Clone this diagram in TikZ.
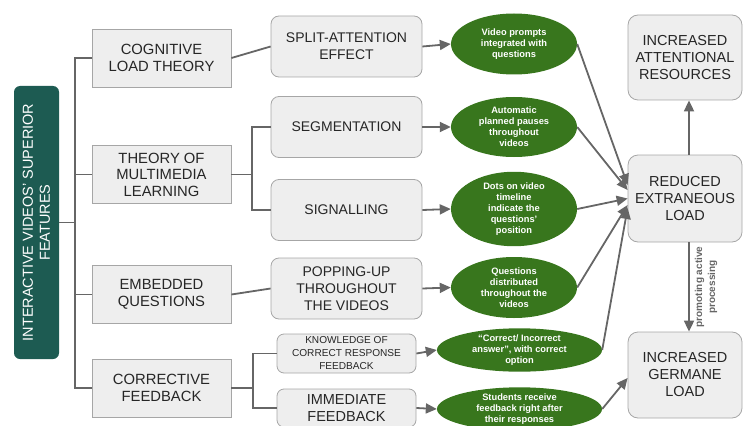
\documentclass[tikz,border=0pt]{standalone}
\usepackage{fontspec}
\setmainfont{Liberation Sans}
\usetikzlibrary{shapes.geometric,arrows.meta}

\definecolor{featteal}{HTML}{1D5B52}
\definecolor{leafgreen}{HTML}{38761D}
\definecolor{boxgray}{HTML}{EEEEEE}
\definecolor{boxedge}{HTML}{A6A6A6}
\definecolor{linkgray}{HTML}{666666}
\definecolor{inkgray}{HTML}{262626}

\begin{document}
\begin{tikzpicture}[x=1pt, y=-1pt, font=\rmfamily]

% ---- Define Styles ----
\tikzset{
  featurebox/.style={
    fill=featteal, rounded corners=6pt, rotate=90, text=white,
    minimum width=273pt, minimum height=45pt, inner sep=1pt,
    font=\fontsize{14.5}{17}\selectfont, align=center
  },
  theorybox/.style={
    draw=boxedge, fill=boxgray, line width=0.8pt, text=inkgray,
    minimum width=139pt, minimum height=58pt, inner sep=1pt,
    font=\fontsize{14.8}{16.5}\selectfont, align=center
  },
  mechbox/.style={
    draw=boxedge, fill=boxgray, line width=0.8pt, text=inkgray, rounded corners=8pt,
    minimum width=151pt, minimum height=61pt, inner sep=1pt,
    font=\fontsize{14}{17}\selectfont, align=center
  },
  leafnode/.style={
    ellipse, fill=leafgreen, text=white, inner sep=0pt,
    minimum width=126pt, minimum height=61pt,
    font=\bfseries\fontsize{9.3}{11}\selectfont, align=center
  },
  outcomebox/.style={
    draw=boxedge, fill=boxgray, line width=0.8pt, text=inkgray, rounded corners=10pt,
    minimum width=114pt, minimum height=86pt, inner sep=1pt,
    font=\fontsize{14.5}{17}\selectfont, align=center
  },
  link/.style={draw=linkgray, line width=1.8pt},
  arrowlink/.style={link, -{Triangle[length=11pt,width=10pt]}}
}

\useasboundingbox (0,0) rectangle (743,425);

% =========================================================
% LEFT: title bar and the four theories
% =========================================================
\node[featurebox] (main) at (36.5,222.5) {INTERACTIVE VIDEOS' SUPERIOR\\FEATURES};

\node[theorybox] (clt) at (161.5,58)    {COGNITIVE\\LOAD THEORY};
\node[theorybox] (tml) at (161.5,174.5) {THEORY OF\\MULTIMEDIA\\LEARNING};
\node[theorybox] (emb) at (161.5,294.5) {EMBEDDED\\QUESTIONS};
\node[theorybox] (cfb) at (161.5,388)   {CORRECTIVE\\FEEDBACK};

% bracket (the bar is turned, so its south side faces right)
\coordinate (trunk) at (75,222.5);
\draw[link] (main.south) -- (trunk);
\foreach \n in {clt,tml,emb,cfb}
  \draw[link] (trunk) |- (\n.west);

% =========================================================
% MIDDLE: mechanisms
% =========================================================
\node[mechbox] (spl) at (346.5,46.5)  {SPLIT-ATTENTION\\EFFECT};
\node[mechbox] (seg) at (346.5,127)   {SEGMENTATION};
\node[mechbox] (sig) at (346.5,210)   {SIGNALLING};
\node[mechbox] (pop) at (346.5,288.5) {POPPING-UP\\THROUGHOUT\\THE VIDEOS};
\node[mechbox, minimum width=139pt, minimum height=39pt, rounded corners=7pt,
      font=\fontsize{10.1}{13}\selectfont] (kcr) at (346.5,353.5)
      {KNOWLEDGE OF\\CORRECT RESPONSE\\FEEDBACK};
\node[mechbox, minimum width=139pt, minimum height=38pt, rounded corners=7pt,
      font=\fontsize{14.5}{17.5}\selectfont] (imm) at (346.5,408)
      {IMMEDIATE\\FEEDBACK};

\draw[link] (clt.east) -- (spl.west);
\draw[link] (emb.east) -- (pop.west);

\coordinate (mmfork) at (252,174.5);
\draw[link] (tml.east) -- (mmfork);
\draw[link] (mmfork) |- (seg.west);
\draw[link] (mmfork) |- (sig.west);

\coordinate (cffork) at (253,388);
\draw[link] (cfb.east) -- (cffork);
\draw[link] (cffork) |- (kcr.west);
\draw[link] (cffork) |- (imm.west);

% =========================================================
% GREEN ELLIPSES: how the videos do it
% =========================================================
\node[leafnode] (vp) at (514,44)    {Video prompts\\integrated with\\questions};
\node[leafnode, minimum height=60pt] (ap) at (514,127)
      {Automatic\\planned pauses\\throughout\\videos};
\node[leafnode, minimum height=58pt] (dt) at (514,209)
      {Dots on video\\timeline\\indicate the\\questions'\\position};
\node[leafnode] (qd) at (514,287.5) {Questions\\distributed\\throughout the\\videos};
\node[leafnode, minimum width=165pt, minimum height=36pt] (ci) at (519.5,350)
      {“Correct/ Incorrect\\answer”, with correct\\option};
\node[leafnode, minimum width=165pt, minimum height=36pt] (sr) at (519.5,409)
      {Students receive\\feedback right after\\their responses};

\draw[arrowlink] (spl.east) -- (vp.west);
\draw[arrowlink] (seg.east) -- (ap.west);
\draw[arrowlink] (sig.east) -- (dt.west);
\draw[arrowlink] (pop.east) -- (qd.west);
\draw[arrowlink] (kcr.east) -- (ci.west);
\draw[arrowlink] (imm.east) -- (sr.west);

% =========================================================
% RIGHT: outcomes
% =========================================================
\node[outcomebox, minimum height=85pt] (att) at (685,57.5) {INCREASED\\ATTENTIONAL\\RESOURCES};
\node[outcomebox, minimum height=87pt] (red) at (685,198.5) {REDUCED\\EXTRANEOUS\\LOAD};
\node[outcomebox] (ger) at (685,375) {INCREASED\\GERMANE\\LOAD};

% all ellipses feed the extraneous load box
\draw[arrowlink] (vp.east) -- ([yshift=13.5pt]red.west);
\draw[arrowlink] (ap.east) -- ([yshift=8.5pt]red.west);
\draw[arrowlink] (dt.east) -- (red.west);
\draw[arrowlink] (qd.east) -- ([yshift=-6.5pt]red.west);
\draw[arrowlink] (ci.east) -- ([yshift=-9.5pt]red.west);
\draw[arrowlink] (sr.east) -- ([yshift=-3pt]ger.west);

\draw[arrowlink] ([xshift=4pt]red.north) -- ([xshift=4pt]att.south);
\draw[arrowlink] ([xshift=4pt]red.south) -- ([xshift=4pt]ger.north)
  node[midway, rotate=90, anchor=north, inner sep=5pt, text=linkgray,
       font=\bfseries\fontsize{10}{13}\selectfont, align=center]
  {promoting active\\processing};

\end{tikzpicture}
\end{document}
